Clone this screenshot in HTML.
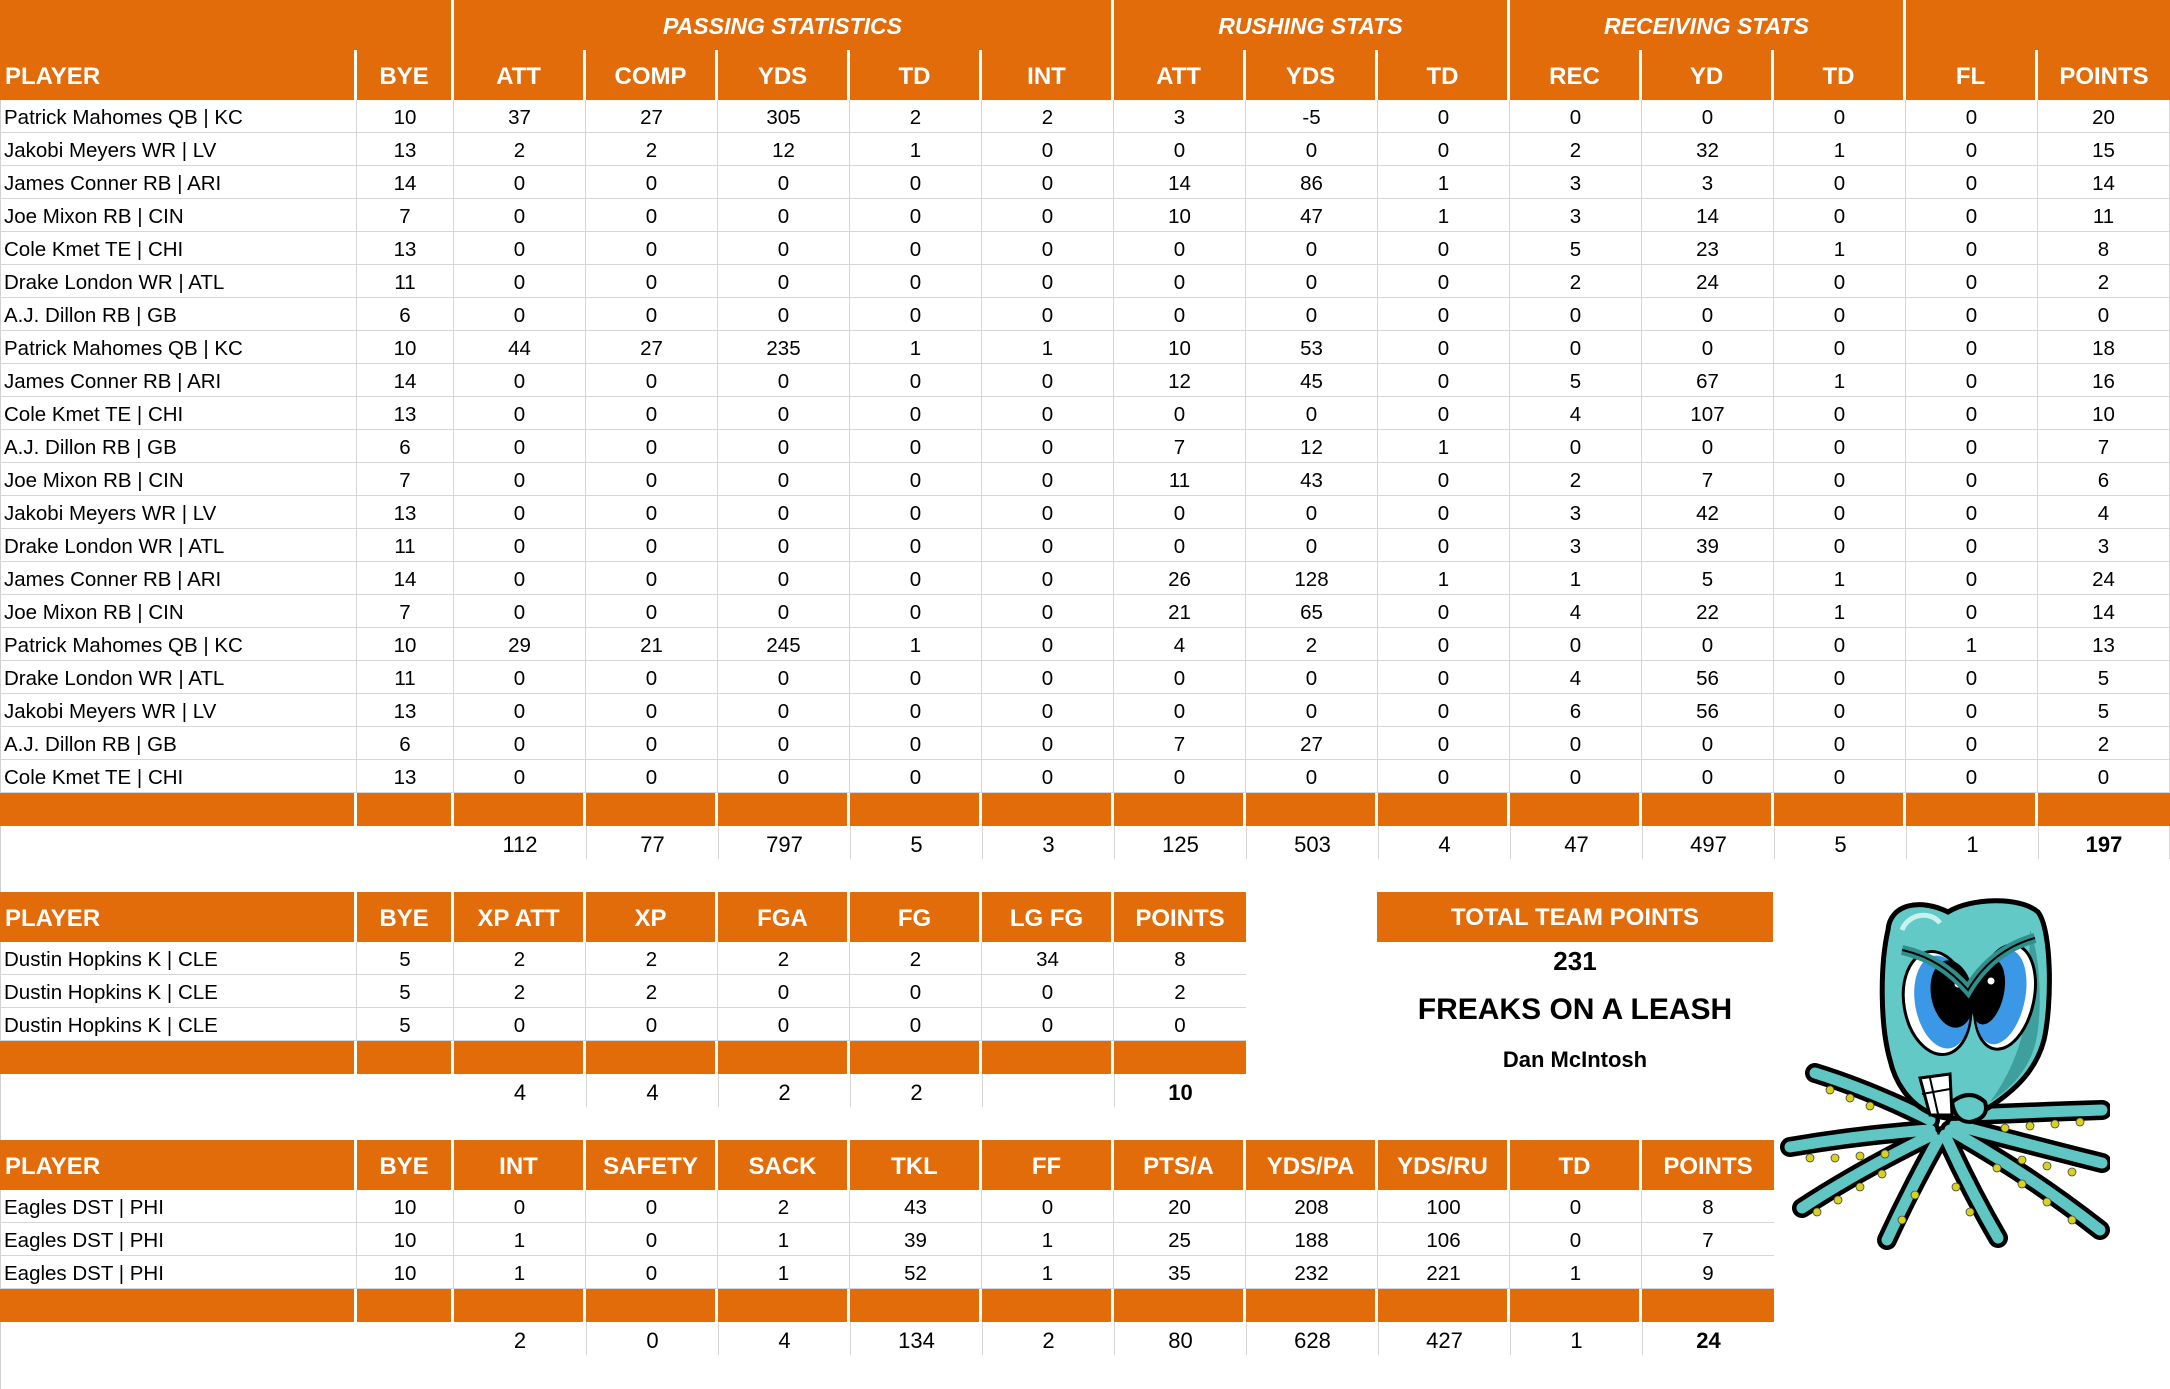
<!DOCTYPE html>
<html><head><meta charset="utf-8">
<style>
body{margin:0;width:2170px;height:1389px;position:relative;background:#fff;font-family:"Liberation Sans",Arial,sans-serif;overflow:hidden;color:#000}
.t{position:absolute;left:0}
.r{display:flex;height:33px}
.r>div{box-sizing:border-box;flex:none;text-align:center;white-space:nowrap;overflow:hidden}
.w1{width:357px}.w2{width:97px}.w{width:132px}
.h{height:50px}
.h>div{background:#E26B0A;color:#fff;font-weight:bold;font-size:24px;border-right:3px solid #fff;line-height:54px}
.h>div:first-child{text-align:left;padding-left:5px}
.g{height:50px}
.g>div{background:#E26B0A;color:#fff;font-weight:bold;font-style:italic;font-size:23px;border-right:3px solid #fff;line-height:53px}
.d>div{border-right:1px solid #d6d6d6;border-bottom:1px solid #d6d6d6;font-size:20.5px;line-height:31px;padding-top:2px}
.d>div:first-child{text-align:left;padding-left:4px}
.o>div{background:#E26B0A;border-right:3px solid #fff}
.s>div{font-size:22px;line-height:31px;padding-top:3px}
.s>div.l{border-left:1px solid #d6d6d6}
.s>div.rr{border-right:1px solid #d6d6d6}
b{font-weight:bold}
</style></head><body>
<div style="position:absolute;left:0;top:0;width:1px;height:1389px;background:#d0d0d0"></div>

<!-- MAIN TABLE -->
<div class="t" style="top:0">
<div class="r g"><div style="width:454px"></div><div style="width:660px">PASSING STATISTICS</div><div style="width:396px">RUSHING STATS</div><div style="width:396px">RECEIVING STATS</div><div style="width:264px;border-right:none"></div></div>
<div class="r h"><div class="w1">PLAYER</div><div class="w2">BYE</div><div class="w">ATT</div><div class="w">COMP</div><div class="w">YDS</div><div class="w">TD</div><div class="w">INT</div><div class="w">ATT</div><div class="w">YDS</div><div class="w">TD</div><div class="w">REC</div><div class="w">YD</div><div class="w">TD</div><div class="w">FL</div><div class="w" style="border-right:none">POINTS</div></div>
<div class="r d"><div class="w1">Patrick Mahomes QB | KC</div><div class="w2">10</div><div class="w">37</div><div class="w">27</div><div class="w">305</div><div class="w">2</div><div class="w">2</div><div class="w">3</div><div class="w">-5</div><div class="w">0</div><div class="w">0</div><div class="w">0</div><div class="w">0</div><div class="w">0</div><div class="w">20</div></div>
<div class="r d"><div class="w1">Jakobi Meyers WR | LV</div><div class="w2">13</div><div class="w">2</div><div class="w">2</div><div class="w">12</div><div class="w">1</div><div class="w">0</div><div class="w">0</div><div class="w">0</div><div class="w">0</div><div class="w">2</div><div class="w">32</div><div class="w">1</div><div class="w">0</div><div class="w">15</div></div>
<div class="r d"><div class="w1">James Conner RB | ARI</div><div class="w2">14</div><div class="w">0</div><div class="w">0</div><div class="w">0</div><div class="w">0</div><div class="w">0</div><div class="w">14</div><div class="w">86</div><div class="w">1</div><div class="w">3</div><div class="w">3</div><div class="w">0</div><div class="w">0</div><div class="w">14</div></div>
<div class="r d"><div class="w1">Joe Mixon RB | CIN</div><div class="w2">7</div><div class="w">0</div><div class="w">0</div><div class="w">0</div><div class="w">0</div><div class="w">0</div><div class="w">10</div><div class="w">47</div><div class="w">1</div><div class="w">3</div><div class="w">14</div><div class="w">0</div><div class="w">0</div><div class="w">11</div></div>
<div class="r d"><div class="w1">Cole Kmet TE | CHI</div><div class="w2">13</div><div class="w">0</div><div class="w">0</div><div class="w">0</div><div class="w">0</div><div class="w">0</div><div class="w">0</div><div class="w">0</div><div class="w">0</div><div class="w">5</div><div class="w">23</div><div class="w">1</div><div class="w">0</div><div class="w">8</div></div>
<div class="r d"><div class="w1">Drake London WR | ATL</div><div class="w2">11</div><div class="w">0</div><div class="w">0</div><div class="w">0</div><div class="w">0</div><div class="w">0</div><div class="w">0</div><div class="w">0</div><div class="w">0</div><div class="w">2</div><div class="w">24</div><div class="w">0</div><div class="w">0</div><div class="w">2</div></div>
<div class="r d"><div class="w1">A.J. Dillon RB | GB</div><div class="w2">6</div><div class="w">0</div><div class="w">0</div><div class="w">0</div><div class="w">0</div><div class="w">0</div><div class="w">0</div><div class="w">0</div><div class="w">0</div><div class="w">0</div><div class="w">0</div><div class="w">0</div><div class="w">0</div><div class="w">0</div></div>
<div class="r d"><div class="w1">Patrick Mahomes QB | KC</div><div class="w2">10</div><div class="w">44</div><div class="w">27</div><div class="w">235</div><div class="w">1</div><div class="w">1</div><div class="w">10</div><div class="w">53</div><div class="w">0</div><div class="w">0</div><div class="w">0</div><div class="w">0</div><div class="w">0</div><div class="w">18</div></div>
<div class="r d"><div class="w1">James Conner RB | ARI</div><div class="w2">14</div><div class="w">0</div><div class="w">0</div><div class="w">0</div><div class="w">0</div><div class="w">0</div><div class="w">12</div><div class="w">45</div><div class="w">0</div><div class="w">5</div><div class="w">67</div><div class="w">1</div><div class="w">0</div><div class="w">16</div></div>
<div class="r d"><div class="w1">Cole Kmet TE | CHI</div><div class="w2">13</div><div class="w">0</div><div class="w">0</div><div class="w">0</div><div class="w">0</div><div class="w">0</div><div class="w">0</div><div class="w">0</div><div class="w">0</div><div class="w">4</div><div class="w">107</div><div class="w">0</div><div class="w">0</div><div class="w">10</div></div>
<div class="r d"><div class="w1">A.J. Dillon RB | GB</div><div class="w2">6</div><div class="w">0</div><div class="w">0</div><div class="w">0</div><div class="w">0</div><div class="w">0</div><div class="w">7</div><div class="w">12</div><div class="w">1</div><div class="w">0</div><div class="w">0</div><div class="w">0</div><div class="w">0</div><div class="w">7</div></div>
<div class="r d"><div class="w1">Joe Mixon RB | CIN</div><div class="w2">7</div><div class="w">0</div><div class="w">0</div><div class="w">0</div><div class="w">0</div><div class="w">0</div><div class="w">11</div><div class="w">43</div><div class="w">0</div><div class="w">2</div><div class="w">7</div><div class="w">0</div><div class="w">0</div><div class="w">6</div></div>
<div class="r d"><div class="w1">Jakobi Meyers WR | LV</div><div class="w2">13</div><div class="w">0</div><div class="w">0</div><div class="w">0</div><div class="w">0</div><div class="w">0</div><div class="w">0</div><div class="w">0</div><div class="w">0</div><div class="w">3</div><div class="w">42</div><div class="w">0</div><div class="w">0</div><div class="w">4</div></div>
<div class="r d"><div class="w1">Drake London WR | ATL</div><div class="w2">11</div><div class="w">0</div><div class="w">0</div><div class="w">0</div><div class="w">0</div><div class="w">0</div><div class="w">0</div><div class="w">0</div><div class="w">0</div><div class="w">3</div><div class="w">39</div><div class="w">0</div><div class="w">0</div><div class="w">3</div></div>
<div class="r d"><div class="w1">James Conner RB | ARI</div><div class="w2">14</div><div class="w">0</div><div class="w">0</div><div class="w">0</div><div class="w">0</div><div class="w">0</div><div class="w">26</div><div class="w">128</div><div class="w">1</div><div class="w">1</div><div class="w">5</div><div class="w">1</div><div class="w">0</div><div class="w">24</div></div>
<div class="r d"><div class="w1">Joe Mixon RB | CIN</div><div class="w2">7</div><div class="w">0</div><div class="w">0</div><div class="w">0</div><div class="w">0</div><div class="w">0</div><div class="w">21</div><div class="w">65</div><div class="w">0</div><div class="w">4</div><div class="w">22</div><div class="w">1</div><div class="w">0</div><div class="w">14</div></div>
<div class="r d"><div class="w1">Patrick Mahomes QB | KC</div><div class="w2">10</div><div class="w">29</div><div class="w">21</div><div class="w">245</div><div class="w">1</div><div class="w">0</div><div class="w">4</div><div class="w">2</div><div class="w">0</div><div class="w">0</div><div class="w">0</div><div class="w">0</div><div class="w">1</div><div class="w">13</div></div>
<div class="r d"><div class="w1">Drake London WR | ATL</div><div class="w2">11</div><div class="w">0</div><div class="w">0</div><div class="w">0</div><div class="w">0</div><div class="w">0</div><div class="w">0</div><div class="w">0</div><div class="w">0</div><div class="w">4</div><div class="w">56</div><div class="w">0</div><div class="w">0</div><div class="w">5</div></div>
<div class="r d"><div class="w1">Jakobi Meyers WR | LV</div><div class="w2">13</div><div class="w">0</div><div class="w">0</div><div class="w">0</div><div class="w">0</div><div class="w">0</div><div class="w">0</div><div class="w">0</div><div class="w">0</div><div class="w">6</div><div class="w">56</div><div class="w">0</div><div class="w">0</div><div class="w">5</div></div>
<div class="r d"><div class="w1">A.J. Dillon RB | GB</div><div class="w2">6</div><div class="w">0</div><div class="w">0</div><div class="w">0</div><div class="w">0</div><div class="w">0</div><div class="w">7</div><div class="w">27</div><div class="w">0</div><div class="w">0</div><div class="w">0</div><div class="w">0</div><div class="w">0</div><div class="w">2</div></div>
<div class="r d"><div class="w1">Cole Kmet TE | CHI</div><div class="w2">13</div><div class="w">0</div><div class="w">0</div><div class="w">0</div><div class="w">0</div><div class="w">0</div><div class="w">0</div><div class="w">0</div><div class="w">0</div><div class="w">0</div><div class="w">0</div><div class="w">0</div><div class="w">0</div><div class="w">0</div></div>
<div class="r o"><div class="w1"></div><div class="w2"></div><div class="w"></div><div class="w"></div><div class="w"></div><div class="w"></div><div class="w"></div><div class="w"></div><div class="w"></div><div class="w"></div><div class="w"></div><div class="w"></div><div class="w"></div><div class="w"></div><div class="w" style="border-right:none"></div></div>
<div class="r s"><div class="w1"></div><div class="w2"></div><div class="w">112</div><div class="w l">77</div><div class="w l">797</div><div class="w l">5</div><div class="w l">3</div><div class="w l">125</div><div class="w l">503</div><div class="w l">4</div><div class="w l">47</div><div class="w l">497</div><div class="w l">5</div><div class="w l">1</div><div class="w l rr"><b>197</b></div></div>
</div>

<!-- KICKER TABLE -->
<div class="t" style="top:892px">
<div class="r h"><div class="w1">PLAYER</div><div class="w2">BYE</div><div class="w">XP ATT</div><div class="w">XP</div><div class="w">FGA</div><div class="w">FG</div><div class="w">LG FG</div><div class="w" style="border-right:none">POINTS</div></div>
<div class="r d"><div class="w1">Dustin Hopkins K | CLE</div><div class="w2">5</div><div class="w">2</div><div class="w">2</div><div class="w">2</div><div class="w">2</div><div class="w">34</div><div class="w" style="border-right:none">8</div></div>
<div class="r d"><div class="w1">Dustin Hopkins K | CLE</div><div class="w2">5</div><div class="w">2</div><div class="w">2</div><div class="w">0</div><div class="w">0</div><div class="w">0</div><div class="w" style="border-right:none">2</div></div>
<div class="r d"><div class="w1">Dustin Hopkins K | CLE</div><div class="w2">5</div><div class="w">0</div><div class="w">0</div><div class="w">0</div><div class="w">0</div><div class="w">0</div><div class="w" style="border-right:none">0</div></div>
<div class="r o"><div class="w1"></div><div class="w2"></div><div class="w"></div><div class="w"></div><div class="w"></div><div class="w"></div><div class="w"></div><div class="w" style="border-right:none"></div></div>
<div class="r s"><div class="w1"></div><div class="w2"></div><div class="w">4</div><div class="w l">4</div><div class="w l">2</div><div class="w l">2</div><div class="w l"></div><div class="w l"><b>10</b></div></div>
</div>

<!-- TOTAL TEAM POINTS -->
<div style="position:absolute;left:1377px;top:892px;width:396px;height:50px;background:#E26B0A;color:#fff;font-weight:bold;font-size:24px;line-height:52px;text-align:center">TOTAL TEAM POINTS</div>
<div style="position:absolute;left:1377px;top:944px;width:396px;height:34px;font-weight:bold;font-size:26px;line-height:34px;text-align:center">231</div>
<div style="position:absolute;left:1377px;top:990px;width:396px;height:40px;font-weight:bold;font-size:30px;line-height:40px;text-align:center">FREAKS ON A LEASH</div>
<div style="position:absolute;left:1377px;top:1045px;width:396px;height:30px;font-weight:bold;font-size:22px;line-height:30px;text-align:center">Dan McIntosh</div>

<!-- DST TABLE -->
<div class="t" style="top:1140px">
<div class="r h"><div class="w1">PLAYER</div><div class="w2">BYE</div><div class="w">INT</div><div class="w">SAFETY</div><div class="w">SACK</div><div class="w">TKL</div><div class="w">FF</div><div class="w">PTS/A</div><div class="w">YDS/PA</div><div class="w">YDS/RU</div><div class="w">TD</div><div class="w" style="border-right:none">POINTS</div></div>
<div class="r d"><div class="w1">Eagles DST | PHI</div><div class="w2">10</div><div class="w">0</div><div class="w">0</div><div class="w">2</div><div class="w">43</div><div class="w">0</div><div class="w">20</div><div class="w">208</div><div class="w">100</div><div class="w">0</div><div class="w" style="border-right:none">8</div></div>
<div class="r d"><div class="w1">Eagles DST | PHI</div><div class="w2">10</div><div class="w">1</div><div class="w">0</div><div class="w">1</div><div class="w">39</div><div class="w">1</div><div class="w">25</div><div class="w">188</div><div class="w">106</div><div class="w">0</div><div class="w" style="border-right:none">7</div></div>
<div class="r d"><div class="w1">Eagles DST | PHI</div><div class="w2">10</div><div class="w">1</div><div class="w">0</div><div class="w">1</div><div class="w">52</div><div class="w">1</div><div class="w">35</div><div class="w">232</div><div class="w">221</div><div class="w">1</div><div class="w" style="border-right:none">9</div></div>
<div class="r o"><div class="w1"></div><div class="w2"></div><div class="w"></div><div class="w"></div><div class="w"></div><div class="w"></div><div class="w"></div><div class="w"></div><div class="w"></div><div class="w"></div><div class="w"></div><div class="w" style="border-right:none"></div></div>
<div class="r s"><div class="w1"></div><div class="w2"></div><div class="w">2</div><div class="w l">0</div><div class="w l">4</div><div class="w l">134</div><div class="w l">2</div><div class="w l">80</div><div class="w l">628</div><div class="w l">427</div><div class="w l">1</div><div class="w l"><b>24</b></div></div>
</div>

<!-- OCTOPUS -->
<svg style="position:absolute;left:1780px;top:890px" width="330" height="360" viewBox="0 0 330 360">
<g stroke-linecap="round" fill="none">
<g stroke="#000" stroke-width="20">
<path d="M150,230 Q90,200 35,183"/>
<path d="M150,240 Q80,245 10,257"/>
<path d="M152,245 Q80,280 22,318"/>
<path d="M158,250 Q130,300 107,350"/>
<path d="M165,245 Q190,300 218,348"/>
<path d="M170,240 Q250,285 320,340"/>
<path d="M175,235 Q250,255 322,273"/>
<path d="M190,225 Q260,222 322,220"/>
</g>
<g stroke="#5fc6c3" stroke-width="11">
<path d="M150,230 Q90,200 35,183"/>
<path d="M150,240 Q80,245 10,257"/>
<path d="M152,245 Q80,280 22,318"/>
<path d="M158,250 Q130,300 107,350"/>
<path d="M165,245 Q190,300 218,348"/>
<path d="M170,240 Q250,285 320,340"/>
<path d="M175,235 Q250,255 322,273"/>
<path d="M190,225 Q260,222 322,220"/>
</g>
</g>
<g fill="#d8d21e" stroke="#444" stroke-width="0.8">
<circle cx="50" cy="200" r="4"/><circle cx="70" cy="208" r="4"/><circle cx="90" cy="216" r="4"/>
<circle cx="30" cy="268" r="4"/><circle cx="55" cy="268" r="4"/><circle cx="80" cy="266" r="4"/><circle cx="105" cy="264" r="4"/>
<circle cx="37" cy="322" r="4"/><circle cx="58" cy="310" r="4"/><circle cx="80" cy="297" r="4"/><circle cx="102" cy="284" r="4"/>
<circle cx="122" cy="330" r="4"/><circle cx="135" cy="305" r="4"/>
<circle cx="190" cy="322" r="4"/><circle cx="176" cy="297" r="4"/>
<circle cx="292" cy="330" r="4"/><circle cx="267" cy="312" r="4"/><circle cx="242" cy="294" r="4"/><circle cx="217" cy="278" r="4"/>
<circle cx="292" cy="282" r="4"/><circle cx="267" cy="276" r="4"/><circle cx="242" cy="270" r="4"/>
<circle cx="300" cy="232" r="4"/><circle cx="275" cy="234" r="4"/><circle cx="250" cy="236" r="4"/><circle cx="225" cy="238" r="4"/>
</g>
<path d="M108,40 C110,14 140,8 168,22 C190,8 240,6 258,22 C272,40 272,115 264,150 C256,180 236,200 208,218 C190,230 165,232 148,222 C128,212 115,192 110,170 C100,135 100,75 108,40 Z" fill="#62c9c6" stroke="#000" stroke-width="5"/>
<path d="M250,40 C262,70 262,130 255,155 C248,180 232,198 210,212 C230,185 245,150 248,110 Z" fill="#3f9f9c"/>
<path d="M122,40 C128,24 150,20 160,33" stroke="#c8f2f0" stroke-width="5" fill="none"/>
<ellipse cx="157" cy="113" rx="33" ry="52" transform="rotate(-10 157 113)" fill="#fff" stroke="#000" stroke-width="3"/>
<ellipse cx="162" cy="112" rx="27" ry="47" transform="rotate(-10 162 112)" fill="#3a98e6"/>
<ellipse cx="172" cy="104" rx="21" ry="34" transform="rotate(-10 172 104)" fill="#000"/>
<ellipse cx="225" cy="107" rx="29" ry="53" transform="rotate(12 225 107)" fill="#fff" stroke="#000" stroke-width="3"/>
<ellipse cx="221" cy="107" rx="24" ry="48" transform="rotate(12 221 107)" fill="#3a98e6"/>
<ellipse cx="208" cy="102" rx="16" ry="33" transform="rotate(12 208 102)" fill="#000"/>
<circle cx="178" cy="94" r="3.5" fill="#fff"/><circle cx="211" cy="91" r="3.5" fill="#fff"/>
<path d="M122,60 Q160,68 188,100 Q212,60 255,48" stroke="#2f8f8c" stroke-width="10" fill="none"/>
<path d="M122,60 Q160,68 188,100 Q212,60 255,48" stroke="#000" stroke-width="2" fill="none"/>
<path d="M140,188 L170,184 L172,225 L150,225 Z" fill="#fff" stroke="#000" stroke-width="3"/>
<path d="M150,188 L158,224 M142,204 L170,199" stroke="#000" stroke-width="2"/>
<path d="M172,212 Q190,198 205,212 Q210,228 190,232 Q175,232 172,212 Z" fill="#62c9c6" stroke="#000" stroke-width="4"/>
</svg>
</body></html>
